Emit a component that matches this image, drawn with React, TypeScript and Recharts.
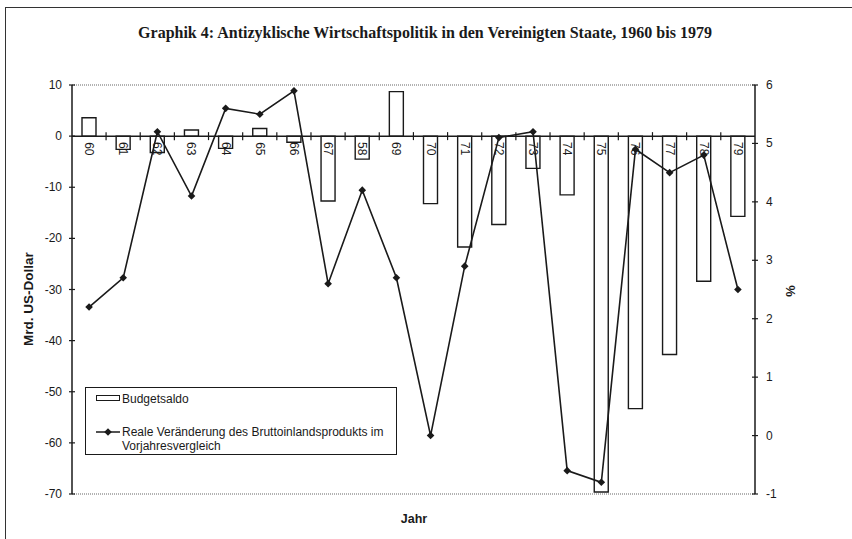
import { ComposedChart, Bar, Line, XAxis, YAxis, ReferenceLine, Legend, LabelList } from 'recharts';

const years = ['1960', '1961', '1962', '1963', '1964', '1965', '1966', '1967', '1968', '1969', '1970', '1971', '1972', '1973', '1974', '1975', '1976', '1977', '1978', '1979'];
// labels as printed in the original (incl. the "58" misprint)
const yearLabels = ['60', '61', '62', '63', '64', '65', '66', '67', '58', '69', '70', '71', '72', '73', '74', '75', '76', '77', '78', '79'];
const budgetBalance = [3.6, -2.6, -3.2, 1.2, -2.4, 1.5, -1.2, -12.7, -4.5, 8.7, -13.2, -21.7, -17.3, -6.3, -11.5, -69.6, -53.3, -42.7, -28.4, -15.7];
const gdpChange = [2.2, 2.7, 5.2, 4.1, 5.6, 5.5, 5.9, 2.6, 4.2, 2.7, 0.0, 2.9, 5.1, 5.2, -0.6, -0.8, 4.9, 4.5, 4.8, 2.5];
const leftTicks = [10, 0, -10, -20, -30, -40, -50, -60, -70];
const rightTicks = [6, 5, 4, 3, 2, 1, 0, -1];

const BUDGET_NAME = 'Budgetsaldo';
const GDP_NAME = 'Reale Veränderung des Bruttoinlandsprodukts im Vorjahresvergleich';

const data = years.map((year, i) => ({
  year,
  label: yearLabels[i],
  budget: budgetBalance[i],
  gdp: gdpChange[i],
}));

const W = 852;
const H = 539;
const MARGIN = { top: 85, right: 57, bottom: 45, left: 32 };
const AXIS_W = 40;
const PLOT_TOP = MARGIN.top;
const PLOT_H = H - MARGIN.top - MARGIN.bottom;
const PLOT_W = W - MARGIN.left - MARGIN.right - 2 * AXIS_W;
const BAND = PLOT_W / years.length;
const LEFT_MAX = 10;
const LEFT_MIN = -70;
const ZERO_Y = PLOT_TOP + (PLOT_H * LEFT_MAX) / (LEFT_MAX - LEFT_MIN);

const INK = '#1a1a1a';
const SANS = '"Liberation Sans", Arial, sans-serif';
const SERIF = '"Liberation Serif", "Times New Roman", serif';

const LeftTick = ({ x, y, payload }: any) => (
  <g>
    <line x1={x - 3} x2={x + 3} y1={y} y2={y} stroke={INK} strokeWidth={1.2} />
    <text x={x - 10} y={y} dy={4} textAnchor="end" fontSize={12} fill={INK} fontFamily={SANS}>
      {payload.value}
    </text>
  </g>
);

const RightTick = ({ x, y, payload }: any) => (
  <g>
    <line x1={x - 3} x2={x + 3} y1={y} y2={y} stroke={INK} strokeWidth={1.2} />
    <text x={x + 11} y={y} dy={4} textAnchor="start" fontSize={12} fill={INK} fontFamily={SANS}>
      {payload.value}
    </text>
  </g>
);

// year label printed just under the zero line, plus the cross tick between categories
const YearLabel = (props: any) => {
  const vb = props.viewBox || props;
  const x = vb.x ?? props.x;
  const width = vb.width ?? props.width;
  const { index, value } = props;
  if (x == null || width == null) return null;
  const cx = x + width / 2;
  const ty = ZERO_Y + 6;
  return (
    <g>
      {index > 0 && (
        <line x1={cx - BAND / 2} x2={cx - BAND / 2} y1={ZERO_Y - 4} y2={ZERO_Y + 4} stroke={INK} strokeWidth={1.2} />
      )}
      <text
        x={cx}
        y={ty}
        transform={`rotate(90 ${cx} ${ty})`}
        textAnchor="start"
        dominantBaseline="central"
        fontSize={12}
        fill={INK}
        fontFamily={SANS}
      >
        {value}
      </text>
    </g>
  );
};

const Diamond = (props: any) => {
  const { cx, cy, index } = props;
  if (cx == null || cy == null) return <g key={`d-${index}`} />;
  const r = 3.8;
  return (
    <polygon
      key={`d-${index}`}
      points={`${cx},${cy - r} ${cx + r},${cy} ${cx},${cy + r} ${cx - r},${cy}`}
      fill={INK}
    />
  );
};

const LegendBox = () => (
  <div
    style={{
      position: 'relative',
      width: 312,
      height: 68,
      boxSizing: 'border-box',
      border: `1px solid ${INK}`,
      background: 'white',
      fontFamily: SANS,
      fontSize: 12,
      color: INK,
    }}
  >
    <div style={{ position: 'absolute', left: 10, top: 7, width: 24, height: 6, border: `1.5px solid ${INK}`, boxSizing: 'border-box' }} />
    <div style={{ position: 'absolute', left: 36, top: 4, lineHeight: '14px' }}>{BUDGET_NAME}</div>
    <svg style={{ position: 'absolute', left: 10, top: 39 }} width={26} height={10}>
      <line x1={0} x2={24} y1={5} y2={5} stroke={INK} strokeWidth={1.5} />
      <polygon points="12,1.2 15.8,5 12,8.8 8.2,5" fill={INK} />
    </svg>
    <div style={{ position: 'absolute', left: 36, top: 37, width: 272, lineHeight: '14px' }}>
      Reale Veränderung des Bruttoinlandsprodukts im
      <br />
      Vorjahresvergleich
    </div>
  </div>
);

export default function App() {
  return (
    <div style={{ position: 'absolute', left: 0, top: 0, width: W, height: H, background: 'white' }}>
      <div style={{ position: 'absolute', left: 6, top: 7, width: W - 6, height: 0, borderTop: '1.5px solid #333' }} />
      <div style={{ position: 'absolute', left: 5, top: 7, width: 0, height: H - 7, borderLeft: '1.5px solid #333' }} />
      <div
        style={{
          position: 'absolute',
          left: 0,
          top: 24,
          width: W - 2,
          textAlign: 'center',
          fontFamily: SERIF,
          fontWeight: 'bold',
          fontSize: 16,
          lineHeight: '18px',
          color: INK,
        }}
      >
        Graphik 4: Antizyklische Wirtschaftspolitik in den Vereinigten Staate, 1960 bis 1979
      </div>

      <ComposedChart width={W} height={H} data={data} margin={MARGIN} barCategoryGap={0}>
        <XAxis dataKey="year" hide />
        <YAxis
          yAxisId="left"
          orientation="left"
          width={AXIS_W}
          domain={[LEFT_MIN, LEFT_MAX]}
          ticks={leftTicks}
          interval={0}
          allowDataOverflow
          tickSize={0}
          tickMargin={0}
          tickLine={false}
          axisLine={{ stroke: INK, strokeWidth: 1.5 }}
          tick={<LeftTick />}
        />
        <YAxis
          yAxisId="right"
          orientation="right"
          width={AXIS_W}
          domain={[-1, 6]}
          ticks={rightTicks}
          interval={0}
          allowDataOverflow
          tickSize={0}
          tickMargin={0}
          tickLine={false}
          axisLine={{ stroke: INK, strokeWidth: 1.5 }}
          tick={<RightTick />}
        />
        <ReferenceLine yAxisId="left" y={LEFT_MAX} stroke="#666" strokeWidth={1.2} strokeDasharray="1 1" />
        <ReferenceLine yAxisId="left" y={LEFT_MIN} stroke="#666" strokeWidth={1.2} strokeDasharray="1 1" />
        <Legend
          layout="vertical"
          align="center"
          verticalAlign="middle"
          wrapperStyle={{ position: 'absolute', left: 85, top: 387, width: 312, height: 68 }}
          content={() => <LegendBox />}
        />
        <Bar
          yAxisId="left"
          dataKey="budget"
          name={BUDGET_NAME}
          fill="white"
          stroke={INK}
          strokeWidth={1.4}
          barSize={14}
          isAnimationActive={false}
        >
          <LabelList dataKey="label" content={<YearLabel />} />
        </Bar>
        <ReferenceLine yAxisId="left" y={0} stroke={INK} strokeWidth={1.5} />
        <Line
          yAxisId="right"
          dataKey="gdp"
          name={GDP_NAME}
          stroke={INK}
          strokeWidth={1.6}
          dot={(p: any) => <Diamond {...p} />}
          activeDot={false}
          isAnimationActive={false}
        />
      </ComposedChart>

      <div
        style={{
          position: 'absolute',
          left: 28,
          top: 299,
          transform: 'translate(-50%, -50%) rotate(-90deg)',
          whiteSpace: 'nowrap',
          fontFamily: SANS,
          fontWeight: 'bold',
          fontSize: 13.5,
          color: INK,
        }}
      >
        Mrd. US-Dollar
      </div>
      <div
        style={{
          position: 'absolute',
          left: 790,
          top: 291,
          transform: 'translate(-50%, -50%) rotate(90deg)',
          fontFamily: SANS,
          fontWeight: 'bold',
          fontSize: 13,
          color: INK,
        }}
      >
        %
      </div>
      <div
        style={{
          position: 'absolute',
          left: 414,
          top: 512,
          transform: 'translateX(-50%)',
          fontFamily: SANS,
          fontWeight: 'bold',
          fontSize: 12.5,
          lineHeight: '14px',
          color: INK,
        }}
      >
        Jahr
      </div>
    </div>
  );
}
